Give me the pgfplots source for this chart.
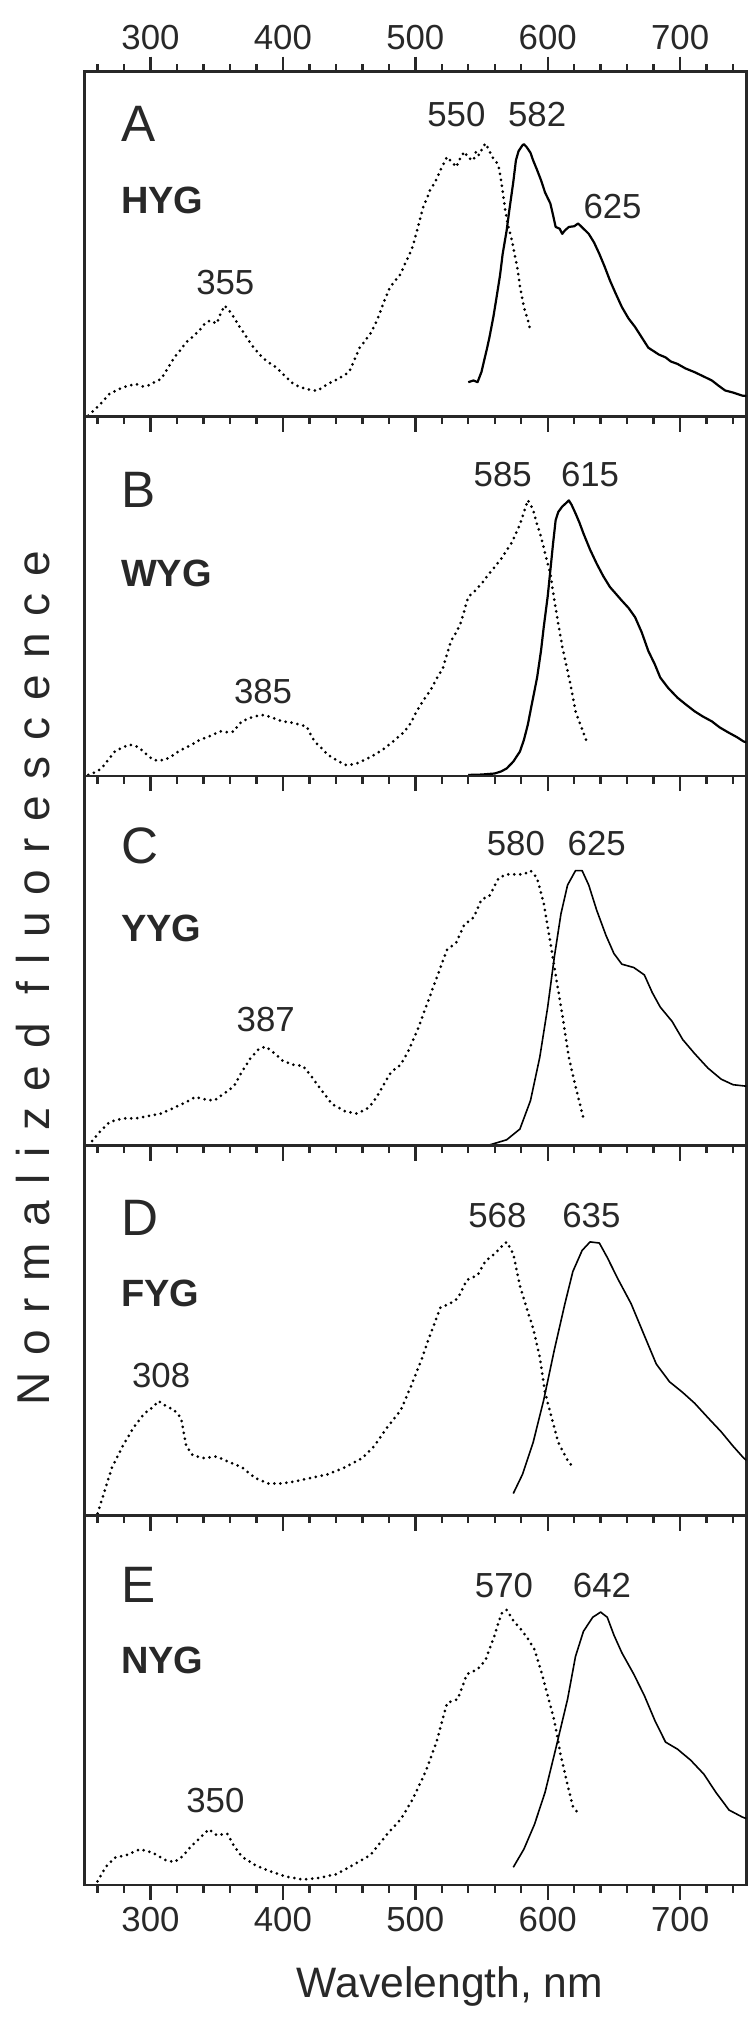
\documentclass[border=0pt]{standalone}
\usepackage{pgfplots}
\pgfplotsset{compat=1.18}
\usepackage{fontspec}
\setmainfont{Liberation Sans}
\definecolor{fg}{RGB}{40,40,40}
\begin{document}
\begin{tikzpicture}
\useasboundingbox (0,0) rectangle (375pt,-1010.5pt);
\pgfplotsset{
  panel/.style={scale only axis, width=331pt, xmin=250, xmax=750, ymin=0, ymax=1, ytick=\empty,
   xtick={300,400,...,700}, minor xtick={260,280,...,740},
   axis line style={line width=1.3pt, fg},
   tick style={line width=1.2pt, fg},
   major tick length=7.5pt, minor tick length=3.75pt,
   xtick align=outside, xtick pos=bottom,
   /pgf/number format/assume math mode=true,
   xticklabel style={font=\fontsize{17.4}{20}\selectfont, text=fg},
   anchor=north west},
}
\tikzset{
  exc/.style={black, line width=1.5pt, line cap=round, dash pattern=on 0pt off 3pt},
  emi/.style={black, line width=1.1pt, line join=round},
  lab/.style={font=\fontsize{17.4}{20}\selectfont, text=fg},
  big/.style={font=\fontsize{25.6}{28}\selectfont, text=fg, anchor=west, inner sep=0pt},
  nam/.style={font=\bfseries\fontsize{19}{22}\selectfont, text=fg, anchor=west, inner sep=0pt},
}
% ---------------- A ----------------
\begin{axis}[panel, at={(42.15pt,-35.85pt)}, height=172.5pt, xtick pos=both, xticklabel pos=upper]
\addplot[exc] coordinates {(253,0.003)(261,0.032)(269,0.066)(279,0.085)(284,0.09)(289,0.095)(294,0.088)(298,0.09)(303,0.1)(308,0.109)(313,0.14)(318,0.172)(322,0.19)(327,0.216)(332,0.232)(337,0.25)(341,0.27)(345,0.279)(350,0.27)(353,0.3)(356,0.322)(360,0.305)(363,0.288)(367,0.262)(371,0.24)(376,0.21)(382,0.182)(388,0.16)(395,0.143)(401,0.12)(408,0.095)(413,0.086)(418,0.08)(422,0.077)(426,0.075)(430,0.085)(434,0.095)(442,0.11)(450,0.129)(454,0.165)(458,0.2)(462,0.22)(466,0.24)(470,0.27)(473,0.298)(477,0.34)(481,0.376)(485,0.395)(489,0.414)(493,0.45)(497,0.482)(500,0.52)(502,0.55)(504,0.58)(506,0.608)(509,0.635)(511,0.656)(515,0.68)(519,0.715)(524,0.753)(527,0.74)(531,0.724)(534,0.75)(537,0.768)(540,0.75)(544,0.743)(546,0.77)(548,0.758)(551,0.78)(553,0.792)(556,0.77)(558,0.753)(561,0.74)(563,0.724)(565,0.68)(568,0.598)(570,0.555)(573,0.511)(575,0.47)(577,0.434)(579,0.38)(582,0.318)(585,0.28)(587,0.25)};
\addplot[emi] coordinates {(540,0.1)(544,0.105)(547,0.1)(550,0.13)(552,0.163)(554,0.195)(556,0.23)(559,0.29)(561,0.337)(564,0.41)(566,0.472)(569,0.54)(571,0.598)(574,0.68)(576,0.743)(578,0.77)(581,0.787)(582,0.79)(584,0.782)(587,0.765)(589,0.743)(592,0.715)(595,0.685)(598,0.65)(602,0.618)(604,0.585)(606,0.55)(609,0.545)(611,0.53)(613,0.54)(616,0.55)(620,0.552)(623,0.56)(627,0.545)(631,0.53)(635,0.505)(639,0.472)(643,0.435)(647,0.395)(651,0.36)(656,0.318)(661,0.285)(666,0.26)(671,0.23)(676,0.2)(680,0.19)(684,0.18)(689,0.172)(693,0.16)(698,0.153)(704,0.14)(711,0.129)(717,0.118)(724,0.105)(729,0.09)(734,0.076)(740,0.07)(747,0.061)(750,0.06)};
\node[big] at (axis cs:277.5,0.85) {A};
\node[nam] at (axis cs:277.5,0.627) {HYG};
\node[lab] at (axis cs:531,0.877) {550};
\node[lab] at (axis cs:592,0.877) {582};
\node[lab] at (axis cs:649,0.609) {625};
\node[lab] at (axis cs:356.5,0.39) {355};
\end{axis}
% ---------------- B ----------------
\begin{axis}[panel, at={(42.15pt,-208.35pt)}, height=179.65pt, xticklabels={}]
\addplot[exc] coordinates {(253,0.003)(258,0.01)(263,0.021)(268,0.045)(273,0.068)(279,0.08)(284,0.087)(288,0.085)(292,0.077)(297,0.06)(302,0.045)(306,0.043)(311,0.045)(316,0.055)(321,0.068)(326,0.078)(331,0.087)(337,0.1)(344,0.11)(349,0.118)(353,0.124)(358,0.122)(363,0.124)(366,0.14)(369,0.152)(374,0.16)(379,0.166)(384,0.17)(389,0.166)(394,0.16)(398,0.154)(403,0.15)(408,0.148)(413,0.142)(418,0.138)(421,0.115)(424,0.096)(429,0.078)(434,0.059)(440,0.045)(447,0.031)(452,0.032)(456,0.035)(462,0.045)(469,0.059)(476,0.075)(482,0.092)(487,0.108)(492,0.124)(497,0.15)(501,0.18)(506,0.21)(511,0.236)(516,0.27)(521,0.302)(524,0.34)(527,0.376)(531,0.4)(534,0.423)(537,0.46)(540,0.498)(545,0.515)(550,0.535)(555,0.56)(560,0.582)(565,0.605)(569,0.628)(573,0.65)(576,0.675)(579,0.7)(581,0.722)(583,0.745)(585,0.768)(587,0.755)(589,0.74)(592,0.7)(595,0.666)(598,0.62)(602,0.563)(605,0.49)(608,0.423)(611,0.36)(615,0.292)(618,0.24)(621,0.18)(625,0.14)(629,0.1)};
\addplot[emi] coordinates {(540,0.003)(550,0.004)(560,0.007)(565,0.013)(569,0.021)(574,0.04)(579,0.068)(582,0.1)(585,0.143)(588,0.2)(592,0.274)(595,0.35)(597,0.414)(600,0.5)(602,0.572)(604,0.645)(606,0.712)(608,0.735)(611,0.75)(614,0.76)(616,0.767)(618,0.755)(621,0.731)(624,0.705)(627,0.675)(632,0.63)(637,0.591)(642,0.556)(647,0.526)(652,0.505)(656,0.488)(661,0.468)(666,0.442)(671,0.4)(676,0.348)(681,0.31)(685,0.274)(691,0.245)(698,0.218)(704,0.2)(711,0.18)(717,0.166)(724,0.152)(730,0.135)(737,0.12)(743,0.108)(748,0.096)(750,0.094)};
\node[big] at (axis cs:277.5,0.796) {B};
\node[nam] at (axis cs:277.5,0.563) {WYG};
\node[lab] at (axis cs:566,0.838) {585};
\node[lab] at (axis cs:632,0.838) {615};
\node[lab] at (axis cs:385,0.236) {385};
\end{axis}
% ---------------- C ----------------
\begin{axis}[panel, at={(42.15pt,-388pt)}, height=184.85pt, xticklabels={}]
\addplot[exc] coordinates {(253,0)(261,0.035)(269,0.064)(279,0.074)(289,0.074)(298,0.08)(308,0.087)(318,0.103)(327,0.118)(334,0.132)(340,0.126)(348,0.122)(356,0.142)(363,0.161)(369,0.2)(376,0.239)(382,0.262)(387,0.268)(394,0.249)(400,0.229)(408,0.219)(415,0.216)(421,0.19)(429,0.151)(437,0.113)(447,0.093)(456,0.087)(465,0.103)(471,0.132)(477,0.171)(482,0.2)(489,0.219)(495,0.258)(502,0.316)(508,0.375)(515,0.443)(519,0.482)(524,0.53)(531,0.55)(537,0.598)(544,0.617)(550,0.666)(556,0.676)(563,0.724)(569,0.734)(576,0.734)(582,0.734)(587,0.744)(592,0.724)(597,0.656)(602,0.55)(606,0.462)(611,0.355)(616,0.239)(621,0.161)(627,0.074)};
\addplot[emi, line width=0.8pt] coordinates {(540,0)(556,0.002)(569,0.016)(579,0.045)(587,0.122)(594,0.239)(600,0.375)(605,0.51)(610,0.627)(615,0.705)(621,0.744)(626,0.744)(631,0.705)(637,0.637)(644,0.569)(650,0.52)(656,0.491)(665,0.482)(673,0.462)(679,0.414)(685,0.375)(694,0.336)(702,0.287)(711,0.249)(721,0.21)(731,0.18)(740,0.165)(750,0.161)};
\node[big] at (axis cs:277.5,0.81) {C};
\node[nam] at (axis cs:277.5,0.588) {YYG};
\node[lab] at (axis cs:576,0.817) {580};
\node[lab] at (axis cs:637,0.817) {625};
\node[lab] at (axis cs:387,0.34) {387};
\end{axis}
% ---------------- D ----------------
\begin{axis}[panel, at={(42.15pt,-572.85pt)}, height=185pt, xticklabels={}]
\addplot[exc] coordinates {(260,0.006)(265,0.063)(271,0.131)(279,0.188)(287,0.237)(295,0.275)(302,0.294)(306,0.31)(311,0.298)(318,0.285)(323,0.265)(327,0.188)(332,0.163)(340,0.156)(350,0.16)(360,0.144)(369,0.131)(379,0.102)(389,0.087)(398,0.087)(408,0.092)(421,0.102)(434,0.112)(447,0.131)(460,0.156)(469,0.188)(479,0.24)(489,0.285)(497,0.352)(505,0.425)(511,0.487)(519,0.563)(526,0.573)(532,0.587)(539,0.637)(547,0.65)(553,0.688)(560,0.708)(565,0.727)(569,0.74)(574,0.708)(579,0.621)(584,0.563)(589,0.506)(594,0.429)(598,0.333)(603,0.265)(608,0.198)(615,0.15)(619,0.131)};
\addplot[emi, line width=0.8pt] coordinates {(574,0.06)(581,0.112)(589,0.198)(597,0.313)(605,0.448)(613,0.573)(619,0.66)(626,0.717)(632,0.74)(639,0.737)(645,0.698)(653,0.64)(663,0.573)(673,0.487)(682,0.41)(692,0.362)(702,0.333)(711,0.304)(721,0.265)(731,0.227)(740,0.188)(748,0.156)(750,0.15)};
\node[big] at (axis cs:277.5,0.804) {D};
\node[nam] at (axis cs:277.5,0.602) {FYG};
\node[lab] at (axis cs:562,0.81) {568};
\node[lab] at (axis cs:633,0.81) {635};
\node[lab] at (axis cs:308,0.38) {308};
\end{axis}
% ---------------- E ----------------
\begin{axis}[panel, at={(42.15pt,-757.85pt)}, height=184.65pt]
\addplot[exc] coordinates {(260,0.01)(266,0.048)(273,0.074)(282,0.081)(292,0.097)(302,0.087)(311,0.068)(318,0.062)(324,0.077)(331,0.106)(337,0.126)(344,0.151)(350,0.135)(358,0.139)(363,0.106)(369,0.077)(379,0.054)(389,0.039)(402,0.023)(415,0.015)(427,0.019)(440,0.029)(453,0.054)(466,0.081)(479,0.139)(489,0.178)(498,0.232)(508,0.309)(516,0.387)(524,0.493)(532,0.503)(539,0.571)(547,0.584)(553,0.609)(560,0.677)(565,0.735)(569,0.745)(574,0.716)(579,0.696)(585,0.667)(590,0.638)(595,0.58)(600,0.513)(605,0.445)(610,0.348)(615,0.271)(619,0.213)(624,0.19)};
\addplot[emi, line width=0.8pt] coordinates {(574,0.048)(582,0.097)(590,0.164)(598,0.251)(606,0.368)(615,0.503)(621,0.619)(627,0.687)(634,0.725)(640,0.739)(645,0.725)(650,0.677)(656,0.629)(665,0.571)(673,0.513)(681,0.445)(689,0.387)(698,0.368)(708,0.338)(718,0.3)(727,0.251)(737,0.203)(747,0.184)(750,0.18)};
\node[big] at (axis cs:277.5,0.812) {E};
\node[nam] at (axis cs:277.5,0.609) {NYG};
\node[lab] at (axis cs:567,0.812) {570};
\node[lab] at (axis cs:641,0.812) {642};
\node[lab] at (axis cs:349,0.228) {350};
\end{axis}
\node[anchor=base, font=\fontsize{21.3}{24}\selectfont, text=fg] at (225pt,-998.5pt) {Wavelength, nm};
\node[rotate=90, font=\fontsize{23}{26}\selectfont\addfontfeature{LetterSpace=36}, text=fg] at (16.7pt,-489pt) {Normalized fluorescence};
\end{tikzpicture}
\end{document}
